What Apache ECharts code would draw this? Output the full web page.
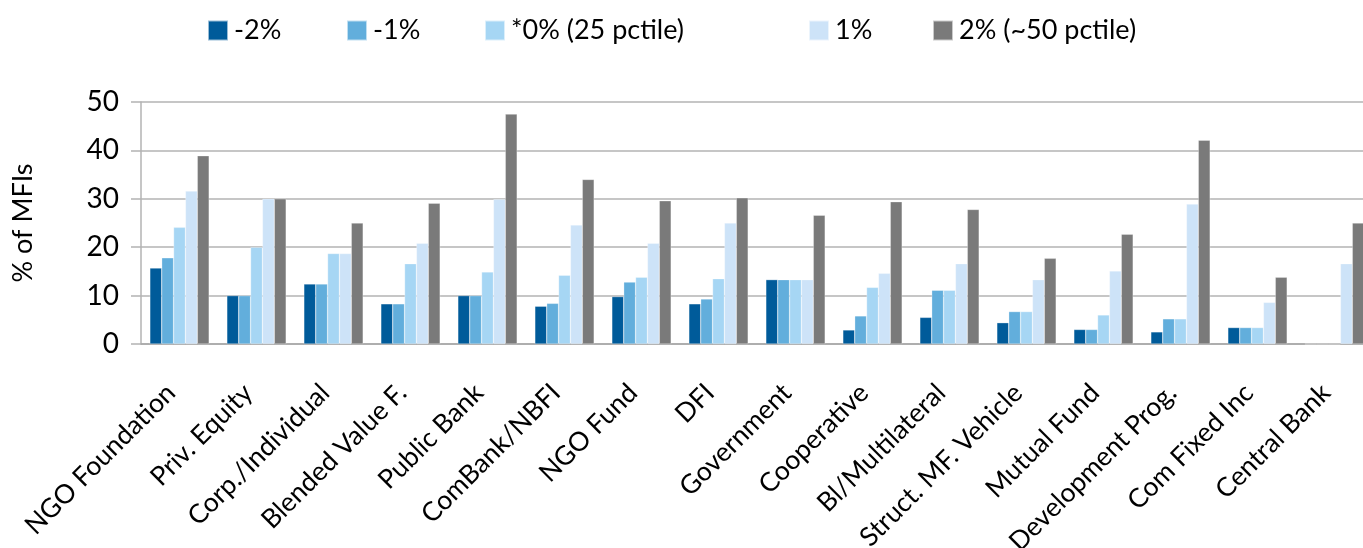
<!DOCTYPE html>
<html>
<head>
<meta charset="utf-8">
<script src="https://cdn.jsdelivr.net/npm/echarts@6/dist/echarts.min.js"></script>
<style>
  html, body { margin: 0; padding: 0; background: #fff; overflow: hidden; }
  #chart { width: 1373px; height: 548px; }
</style>
</head>
<body>
<div id="chart"></div>
<script>
// Funder types along the x axis
const categories = [
  'NGO Foundation', 'Priv. Equity', 'Corp./Individual', 'Blended Value F.',
  'Public Bank', 'ComBank/NBFI', 'NGO Fund', 'DFI', 'Government',
  'Cooperative', 'Bl/Multilateral', 'Struct. MF. Vehicle', 'Mutual Fund',
  'Development Prog.', 'Com Fixed Inc', 'Central Bank'
];

// Share of MFIs (%) at each return threshold
const neg2 = [15.7, 10, 12.4, 8.3, 10, 7.8, 9.8, 8.3, 13.3, 2.9, 5.5, 4.4, 3.0, 2.5, 3.4, 0];
const neg1 = [17.8, 10, 12.4, 8.3, 10, 8.4, 12.8, 9.3, 13.3, 5.8, 11.1, 6.7, 3.0, 5.2, 3.4, 0];
const zero = [24.1, 20, 18.7, 16.6, 14.9, 14.2, 13.8, 13.5, 13.3, 11.7, 11.1, 6.7, 6.0, 5.2, 3.4, 0];
const pos1 = [31.6, 30, 18.7, 20.8, 29.9, 24.6, 20.8, 25.0, 13.3, 14.6, 16.6, 13.3, 15.1, 28.9, 8.6, 16.6];
const pos2 = [38.9, 30, 25.0, 29.1, 47.5, 34.0, 29.6, 30.2, 26.6, 29.4, 27.8, 17.7, 22.7, 42.1, 13.8, 25.0];

const seriesNames = ['-2%', '-1%', '*0% (25 pctile)', '1%', '2% (~50 pctile)'];
const seriesData = [neg2, neg1, zero, pos1, pos2];
const colors = ['#005b9a', '#62aedc', '#a6d6f4', '#cde3f8', '#7a7a7a'];
const legendLeft = [207, 346, 484, 808, 932];

const FONT = 'Lato, "DejaVu Sans", sans-serif';

const chart = echarts.init(document.getElementById('chart'), null, { renderer: 'canvas' });

chart.setOption({
  animation: false,
  backgroundColor: '#fff',
  color: colors,
  legend: seriesNames.map((name, i) => ({
    data: [name],
    left: legendLeft[i],
    top: 17,
    itemWidth: 20,
    itemHeight: 20,
    itemGap: 0,
    padding: 0,
    icon: 'rect',
    selectedMode: false,
    textStyle: { fontFamily: FONT, fontSize: 27, color: '#000', padding: [0, 0, 0, 1] }
  })),
  grid: {
    left: 141, right: 0, top: 102, bottom: 204,
    containLabel: false,
    outerBoundsMode: 'none'
  },
  xAxis: {
    type: 'category',
    data: categories,
    axisLine: { lineStyle: { color: '#a6a6a6', width: 1.5 } },
    axisTick: { show: false },
    axisLabel: {
      interval: 0,
      rotate: 45,
      margin: 36,
      padding: [0, 12, 0, 0],
      fontFamily: FONT,
      fontSize: 26.5,
      color: '#000'
    }
  },
  yAxis: {
    type: 'value',
    min: 0,
    max: 50,
    interval: 10,
    name: '% of MFIs',
    nameLocation: 'middle',
    nameGap: 104,
    nameRotate: 90,
    nameTextStyle: { fontFamily: FONT, fontSize: 27, color: '#000' },
    axisLine: { show: true, lineStyle: { color: '#b3b3b3', width: 1.5 } },
    axisTick: { show: true, length: 10, lineStyle: { color: '#b3b3b3', width: 1.5 } },
    axisLabel: { margin: 22, fontFamily: FONT, fontSize: 28, color: '#000' },
    splitLine: { lineStyle: { color: '#b3b3b3', width: 1.5 } }
  },
  series: seriesNames.map((name, i) => ({
    name: name,
    type: 'bar',
    data: seriesData[i],
    barGap: '0%',
    barCategoryGap: '23%',
    itemStyle: { color: colors[i], borderColor: 'rgba(255,255,255,0.6)', borderWidth: 0.5 }
  }))
});
</script>
</body>
</html>
